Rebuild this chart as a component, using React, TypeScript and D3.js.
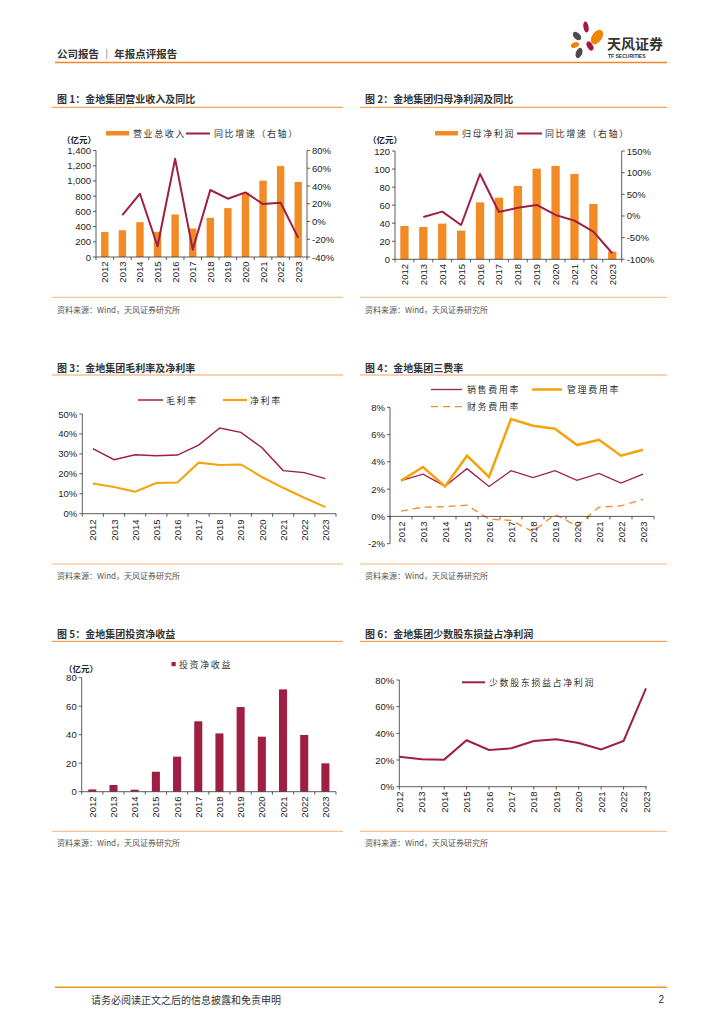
import React from 'react';
import * as d3 from 'd3';

// ---- data ----
const years = ['2012', '2013', '2014', '2015', '2016', '2017', '2018', '2019', '2020', '2021', '2022', '2023'];

const revenue = [330, 352, 458, 330, 559, 374, 515, 643, 845, 1004, 1195, 986];
const revenueYoy = [null, 7.2, 31.3, -27.9, 70.6, -31.7, 35.5, 25.7, 32.8, 19.6, 21.1, -18.5];

const netProfit = [36.9, 35.8, 39.5, 31.8, 63.1, 68.3, 81.2, 100.4, 103.4, 94.5, 61.3, 8.5];
const netProfitYoy = [null, -2.3, 10, -20.8, 96.9, 9.2, 19.2, 25.4, 2.3, -10.8, -36.2, -86];

const grossMargin = [32.6, 27.1, 29.6, 29.1, 29.4, 34.4, 43.0, 40.8, 33.1, 21.6, 20.6, 17.6];
const netMargin = [15.1, 13.4, 11.0, 15.4, 15.7, 25.6, 24.4, 24.7, 18.4, 13.0, 8.0, 3.3];

const sellingRate = [2.62, 3.1, 2.22, 3.5, 2.2, 3.35, 2.84, 3.35, 2.64, 3.15, 2.44, 3.1];
const adminRate = [2.62, 3.62, 2.2, 4.45, 2.89, 7.14, 6.65, 6.43, 5.23, 5.62, 4.45, 4.89];
const financeRate = [0.39, 0.68, 0.71, 0.83, -0.2, -0.29, -1.12, 0.15, -0.71, 0.68, 0.78, 1.25];

const investIncome = [1.6, 4.7, 1.4, 14.0, 24.6, 49.4, 40.9, 59.4, 38.6, 71.8, 39.8, 19.9];
const minorityShare = [22.5, 20.5, 20.3, 34.8, 27.5, 28.8, 34.3, 35.5, 32.8, 28.0, 34.3, 73.8];

const ticks1L = [0, 200, 400, 600, 800, 1000, 1200, 1400];
const ticks1R = [-40, -20, 0, 20, 40, 60, 80];
const ticks2L = [0, 20, 40, 60, 80, 100, 120];
const ticks2R = [-100, -50, 0, 50, 100, 150];
const ticks3 = [0, 10, 20, 30, 40, 50];
const ticks4 = [-2, 0, 2, 4, 6, 8];
const ticks5 = [0, 20, 40, 60, 80];
const ticks6 = [0, 20, 40, 60, 80];

// ---- styles ----
const ORANGE = '#F28A25';
const LINE_ORANGE = '#F4A30B';
const CRIMSON = '#9E1F43';
const AXIS = '#333';
const CJK = '"Noto Sans CJK SC", "Noto Sans", sans-serif';
const NUM = '"Liberation Sans", Arial, sans-serif';
const KAI = '"Noto Sans CJK SC", sans-serif';

const pct = (v: number) => `${v}%`;
const comma = d3.format(',');

type YAxisProps = {
  scale: d3.ScaleLinear<number, number>;
  x: number;
  ticks: number[];
  fmt: (v: number) => string;
  side?: 'left' | 'right';
};

function YAxis({ scale, x, ticks, fmt, side = 'left' }: YAxisProps) {
  const [r0, r1] = scale.range();
  const dir = side === 'left' ? -1 : 1;
  return (
    <g>
      <line x1={x} x2={x} y1={r0} y2={r1} stroke={AXIS} strokeWidth={0.8} />
      {ticks.map(t => (
        <g key={t}>
          <line x1={x} x2={x + dir * 3} y1={scale(t)} y2={scale(t)} stroke={AXIS} strokeWidth={0.8} />
          <text
            x={x + dir * 5}
            y={scale(t)}
            textAnchor={side === 'left' ? 'end' : 'start'}
            dominantBaseline="central"
            fontSize={9.5}
            fontFamily={NUM}
            fill="#222"
          >
            {fmt(t)}
          </text>
        </g>
      ))}
    </g>
  );
}

function XBandAxis({ scale, y, labelY }: { scale: d3.ScaleBand<string>; y: number; labelY: number }) {
  const [r0, r1] = scale.range();
  const step = scale.step();
  const bounds = d3.range(scale.domain().length + 1).map(i => r0 + i * step);
  return (
    <g>
      <line x1={r0} x2={r1} y1={y} y2={y} stroke={AXIS} strokeWidth={0.8} />
      {bounds.map((b, i) => (
        <line key={i} x1={b} x2={b} y1={y} y2={y + 3} stroke={AXIS} strokeWidth={0.8} />
      ))}
      {scale.domain().map(d => (
        <text
          key={d}
          transform={`translate(${(scale(d) ?? 0) + scale.bandwidth() / 2},${labelY}) rotate(-90)`}
          textAnchor="end"
          dominantBaseline="central"
          fontSize={9.5}
          fontFamily={NUM}
          fill="#222"
        >
          {d}
        </text>
      ))}
    </g>
  );
}

function Frame({ x0, x1, titleY, lineY, bottomY, sourceY, title }: {
  x0: number; x1: number; titleY: number; lineY: number; bottomY: number; sourceY: number; title: string;
}) {
  return (
    <g>
      <text x={x0 + 5} y={titleY} dominantBaseline="central" fontSize={10} fontWeight="bold" fontFamily={CJK} fill="#333">
        {title}
      </text>
      <line x1={x0} x2={x1} y1={lineY} y2={lineY} stroke="#F5A35A" strokeWidth={1.2} />
      <line x1={x0} x2={x1} y1={bottomY} y2={bottomY} stroke="#F5B57A" strokeWidth={1} />
      <text x={x0 + 5} y={sourceY} dominantBaseline="central" fontSize={8} fontFamily={CJK} fill="#555">
        资料来源：Wind，天风证券研究所
      </text>
    </g>
  );
}

function legendText(x: number, y: number, s: string) {
  return (
    <text x={x} y={y} dominantBaseline="central" fontSize={9} letterSpacing={1.6} fontFamily={KAI} fill="#333">
      {s}
    </text>
  );
}

function unitLabel(x: number, y: number) {
  return (
    <text x={x} y={y} dominantBaseline="central" fontSize={8.5} fontWeight="bold" fontFamily={CJK} fill="#222">
      （亿元）
    </text>
  );
}

function bandLine(x: d3.ScaleBand<string>, y: d3.ScaleLinear<number, number>, vals: (number | null)[]) {
  const line = d3
    .line<number | null>()
    .defined(v => v !== null)
    .x((_, i) => (x(years[i]) ?? 0) + x.bandwidth() / 2)
    .y(v => y(v as number));
  return line(vals) ?? '';
}

function Chart1() {
  const x = d3.scaleBand<string>().domain(years).range([96, 307]).paddingInner(0.58).paddingOuter(0.29);
  const yL = d3.scaleLinear().domain([0, 1400]).range([257, 150.5]);
  const yR = d3.scaleLinear().domain([-40, 80]).range([257, 150.5]);
  return (
    <g>
      <Frame x0={52} x1={343} titleY={98.5} lineY={107.3} bottomY={297.3} sourceY={309} title="图 1：金地集团营业收入及同比" />
      <rect x={106} y={131} width={23} height={4.5} fill={ORANGE} />
      {legendText(133, 133.5, '营业总收入')}
      <line x1={186} x2={210} y1={133.5} y2={133.5} stroke={CRIMSON} strokeWidth={2} />
      {legendText(214, 133.5, '同比增速（右轴）')}
      {unitLabel(62, 138.5)}
      {years.map((d, i) => (
        <rect key={d} x={x(d)} y={yL(revenue[i])} width={x.bandwidth()} height={yL(0) - yL(revenue[i])} fill={ORANGE} />
      ))}
      <path d={bandLine(x, yR, revenueYoy)} fill="none" stroke={CRIMSON} strokeWidth={2} strokeLinejoin="round" />
      <YAxis scale={yL} x={96} ticks={ticks1L} fmt={comma} />
      <YAxis scale={yR} x={307} ticks={ticks1R} fmt={pct} side="right" />
      <XBandAxis scale={x} y={257} labelY={261.5} />
    </g>
  );
}

function Chart2() {
  const x = d3.scaleBand<string>().domain(years).range([395, 621.7]).paddingInner(0.56).paddingOuter(0.28);
  const yL = d3.scaleLinear().domain([0, 120]).range([259.3, 151]);
  const yR = d3.scaleLinear().domain([-100, 150]).range([259.3, 151]);
  return (
    <g>
      <Frame x0={360} x1={667} titleY={98.5} lineY={107.3} bottomY={297.3} sourceY={309} title="图 2：金地集团归母净利润及同比" />
      <rect x={435} y={131} width={23} height={4.5} fill={ORANGE} />
      {legendText(462, 133.5, '归母净利润')}
      <line x1={517} x2={542} y1={133.5} y2={133.5} stroke={CRIMSON} strokeWidth={2} />
      {legendText(545, 133.5, '同比增速（右轴）')}
      {unitLabel(368, 138.5)}
      {years.map((d, i) => (
        <rect key={d} x={x(d)} y={yL(netProfit[i])} width={x.bandwidth()} height={yL(0) - yL(netProfit[i])} fill={ORANGE} />
      ))}
      <path d={bandLine(x, yR, netProfitYoy)} fill="none" stroke={CRIMSON} strokeWidth={2} strokeLinejoin="round" />
      <YAxis scale={yL} x={395} ticks={ticks2L} fmt={String} />
      <YAxis scale={yR} x={621.7} ticks={ticks2R} fmt={pct} side="right" />
      <XBandAxis scale={x} y={259.3} labelY={264} />
    </g>
  );
}

function Chart3() {
  const x = d3.scaleBand<string>().domain(years).range([82.3, 336]);
  const y = d3.scaleLinear().domain([0, 50]).range([513.7, 414]);
  return (
    <g>
      <Frame x0={52} x1={343} titleY={367} lineY={375} bottomY={564} sourceY={575} title="图 3：金地集团毛利率及净利率" />
      <line x1={138} x2={163} y1={400} y2={400} stroke={CRIMSON} strokeWidth={1.5} />
      {legendText(166, 400, '毛利率')}
      <line x1={223} x2={247} y1={400} y2={400} stroke={LINE_ORANGE} strokeWidth={2.2} />
      {legendText(250, 400, '净利率')}
      <path d={bandLine(x, y, grossMargin)} fill="none" stroke={CRIMSON} strokeWidth={1.5} />
      <path d={bandLine(x, y, netMargin)} fill="none" stroke={LINE_ORANGE} strokeWidth={2} />
      <YAxis scale={y} x={82.3} ticks={ticks3} fmt={pct} />
      <XBandAxis scale={x} y={513.7} labelY={519.5} />
    </g>
  );
}

function Chart4() {
  const x = d3.scaleBand<string>().domain(years).range([390, 654]);
  const y = d3.scaleLinear().domain([-2, 8]).range([543.7, 407.3]);
  return (
    <g>
      <Frame x0={360} x1={667} titleY={367} lineY={375} bottomY={564} sourceY={575} title="图 4：金地集团三费率" />
      <line x1={431} x2={462} y1={389.5} y2={389.5} stroke={CRIMSON} strokeWidth={1.3} />
      {legendText(467, 389.5, '销售费用率')}
      <line x1={532} x2={562} y1={389.5} y2={389.5} stroke={LINE_ORANGE} strokeWidth={2.5} />
      {legendText(567, 389.5, '管理费用率')}
      <line x1={431} x2={462} y1={406.7} y2={406.7} stroke={ORANGE} strokeWidth={1.3} strokeDasharray="7,5" />
      {legendText(467, 406.7, '财务费用率')}
      <path d={bandLine(x, y, sellingRate)} fill="none" stroke={CRIMSON} strokeWidth={1.3} />
      <path d={bandLine(x, y, adminRate)} fill="none" stroke={LINE_ORANGE} strokeWidth={2.5} />
      <path d={bandLine(x, y, financeRate)} fill="none" stroke={ORANGE} strokeWidth={1.3} strokeDasharray="7,5" />
      <YAxis scale={y} x={390} ticks={ticks4} fmt={pct} />
      <XBandAxis scale={x} y={y(0)} labelY={521.5} />
    </g>
  );
}

function Chart5() {
  const x = d3.scaleBand<string>().domain(years).range([81.7, 336]).paddingInner(0.62).paddingOuter(0.31);
  const y = d3.scaleLinear().domain([0, 80]).range([791.7, 677.7]);
  return (
    <g>
      <Frame x0={52} x1={343} titleY={633} lineY={641.3} bottomY={831.3} sourceY={842} title="图 5：金地集团投资净收益" />
      <rect x={171.5} y={662} width={4.2} height={4.2} fill={CRIMSON} />
      {legendText(179, 664, '投资净收益')}
      {years.map((d, i) => (
        <rect key={d} x={x(d)} y={y(investIncome[i])} width={x.bandwidth()} height={y(0) - y(investIncome[i])} fill={CRIMSON} />
      ))}
      <YAxis scale={y} x={81.7} ticks={ticks5} fmt={String} />
      <XBandAxis scale={x} y={791.7} labelY={796.5} />
      {unitLabel(64, 667.5)}
    </g>
  );
}

function Chart6() {
  const x = d3.scalePoint<string>().domain(years).range([399.3, 646]);
  const y = d3.scaleLinear().domain([0, 80]).range([786.7, 680]);
  const line = d3
    .line<number>()
    .x((_, i) => x(years[i]) ?? 0)
    .y(v => y(v));
  return (
    <g>
      <Frame x0={360} x1={667} titleY={633} lineY={641.3} bottomY={831.3} sourceY={842} title="图 6：金地集团少数股东损益占净利润" />
      <line x1={462} x2={485} y1={682.3} y2={682.3} stroke={CRIMSON} strokeWidth={2} />
      {legendText(489, 682.3, '少数股东损益占净利润')}
      <path d={line(minorityShare) ?? ''} fill="none" stroke={CRIMSON} strokeWidth={2} />
      <YAxis scale={y} x={399.3} ticks={ticks6} fmt={pct} />
      <line x1={399.3} x2={647} y1={786.7} y2={786.7} stroke={AXIS} strokeWidth={0.8} />
      {years.map(d => (
        <g key={d}>
          <line x1={x(d)} x2={x(d)} y1={786.7} y2={789.7} stroke={AXIS} strokeWidth={0.8} />
          <text
            transform={`translate(${x(d)},${791.5}) rotate(-90)`}
            textAnchor="end"
            dominantBaseline="central"
            fontSize={9.5}
            fontFamily={NUM}
            fill="#222"
          >
            {d}
          </text>
        </g>
      ))}
    </g>
  );
}

function Header() {
  return (
    <g>
      <text x={57} y={53.5} dominantBaseline="central" fontSize={10.5} fontWeight="bold" fontFamily={CJK} fill="#333">
        公司报告 ｜ 年报点评报告
      </text>
      <line x1={55} x2={667} y1={62.5} y2={62.5} stroke="#F0862A" strokeWidth={1.6} />
      {/* logo petals */}
      <ellipse cx={586} cy={27} rx={2.6} ry={5.5} fill="#A8173F" transform="rotate(-10 586 27)" />
      <ellipse cx={577} cy={36} rx={3.2} ry={5} fill="#4B4B4B" transform="rotate(-45 577 36)" />
      <ellipse cx={597} cy={37} rx={5} ry={8} fill="#F08300" transform="rotate(35 597 37)" />
      <ellipse cx={575} cy={45} rx={4.2} ry={2.6} fill="#F08300" transform="rotate(-20 575 45)" />
      <ellipse cx={590} cy={46} rx={2.8} ry={5} fill="#A8173F" transform="rotate(-30 590 46)" />
      <ellipse cx={579} cy={53} rx={3.2} ry={5.4} fill="#4B4B4B" transform="rotate(20 579 53)" />
      <text x={607} y={42.5} dominantBaseline="central" fontSize={14} fontWeight="bold" fontFamily={CJK} fill="#333">
        天风证券
      </text>
      <text x={608} y={56} dominantBaseline="central" fontSize={5} fontWeight="bold" fontFamily={NUM} fill="#333">
        TF SECURITIES
      </text>
    </g>
  );
}

function Footer() {
  return (
    <g>
      <line x1={55} x2={667} y1={987.3} y2={987.3} stroke="#F0951E" strokeWidth={1.6} />
      <text x={91} y={999.5} dominantBaseline="central" fontSize={10} fontFamily={CJK} fill="#333">
        请务必阅读正文之后的信息披露和免责申明
      </text>
      <text x={664} y={999.5} textAnchor="end" dominantBaseline="central" fontSize={10} fontFamily={NUM} fill="#333">
        2
      </text>
    </g>
  );
}

export default function App() {
  return (
    <svg
      width={724}
      height={1024}
      viewBox="0 0 724 1024"
      style={{ position: 'absolute', left: 0, top: 0, background: '#fff' }}
    >
      <rect width={724} height={1024} fill="#fff" />
      <Header />
      <Chart1 />
      <Chart2 />
      <Chart3 />
      <Chart4 />
      <Chart5 />
      <Chart6 />
      <Footer />
    </svg>
  );
}
